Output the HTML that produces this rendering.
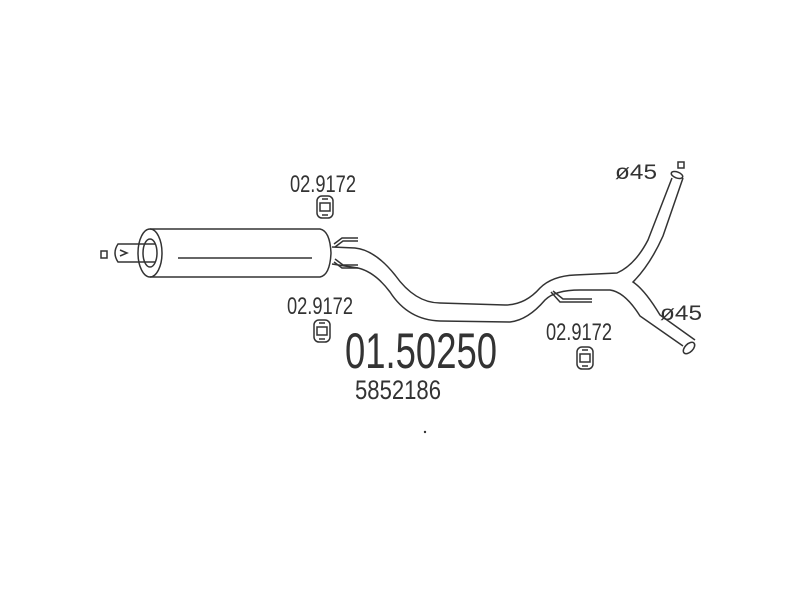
<!DOCTYPE html><html><head><style>body{margin:0;background:#fff}svg{display:block}</style></head><body>
<svg width="800" height="600" viewBox="0 0 800 600" xmlns="http://www.w3.org/2000/svg" font-family="Liberation Sans, sans-serif">
<defs>
<g id="h" fill="none" stroke="#333" stroke-width="1.5"><rect x="-8" y="-11" width="16" height="22" rx="5"/><rect x="-5" y="-4" width="10" height="8"/><line x1="-3" y1="-8" x2="3" y2="-8"/><line x1="-3" y1="8" x2="3" y2="8"/></g>
</defs>
<g fill="none" stroke="#333" stroke-width="1.5">
<rect x="101" y="251" width="6" height="7"/>
<path d="M155,244 L118,244 Q112,253 118,262 L155,262"/>
<path d="M120,250 L127,253 L120,256"/>
<ellipse cx="150" cy="253" rx="12" ry="24"/>
<ellipse cx="150" cy="253" rx="7" ry="14"/>
<path d="M150,229 L320,229 Q330,231 331,253 Q330,275 320,277 L150,277"/>
<line x1="178" y1="258" x2="312" y2="258"/>
<path d="M334,244 L342,238 L358,238 M335,247 L343,241 L358,241"/>
<path d="M334,262 L342,268 L358,268 M335,259 L343,265 L358,265"/>
<path d="M332,247 L355,248 Q375,250 395,275 Q415,303 440,303 L505,305 Q525,305 540,288 Q552,276 575,275 L617,273 Q635,265 648,240 L672,178"/>
<path d="M332,264 L358,268 Q375,272 390,292 Q408,320 440,321 L510,322 Q528,320 545,300 Q555,290 580,290 L610,290 Q625,292 640,316 L683,346"/>
<path d="M683,178 L663,236 Q650,265 633,282 Q645,290 660,315 L695,340"/>
<ellipse cx="677" cy="175" rx="6" ry="3" transform="rotate(20 677 175)"/>
<ellipse cx="689" cy="348" rx="4" ry="7" transform="rotate(45 689 348)"/>
<rect x="678" y="162" width="6" height="6"/>
<path d="M551,292 L560,302 L592,302 M553,291 L563,299 L592,299"/>
</g>
<use href="#h" x="325" y="207"/>
<use href="#h" x="322" y="331"/>
<use href="#h" x="585" y="358"/>
<g fill="#333">
<text x="290" y="192" font-size="24" textLength="66" lengthAdjust="spacingAndGlyphs">02.9172</text>
<text x="287" y="314" font-size="24" textLength="66" lengthAdjust="spacingAndGlyphs">02.9172</text>
<text x="546" y="340" font-size="24" textLength="66" lengthAdjust="spacingAndGlyphs">02.9172</text>
<text x="615" y="179" font-size="21" textLength="42" lengthAdjust="spacingAndGlyphs">ø45</text>
<text x="660" y="320" font-size="21" textLength="42" lengthAdjust="spacingAndGlyphs">ø45</text>
<text x="345" y="368" font-size="50" textLength="152" lengthAdjust="spacingAndGlyphs">01.50250</text>
<text x="355" y="399" font-size="27" textLength="86" lengthAdjust="spacingAndGlyphs">5852186</text>
</g>
<circle cx="425" cy="432" r="1.2" fill="#333"/>
</svg>
</body></html>
